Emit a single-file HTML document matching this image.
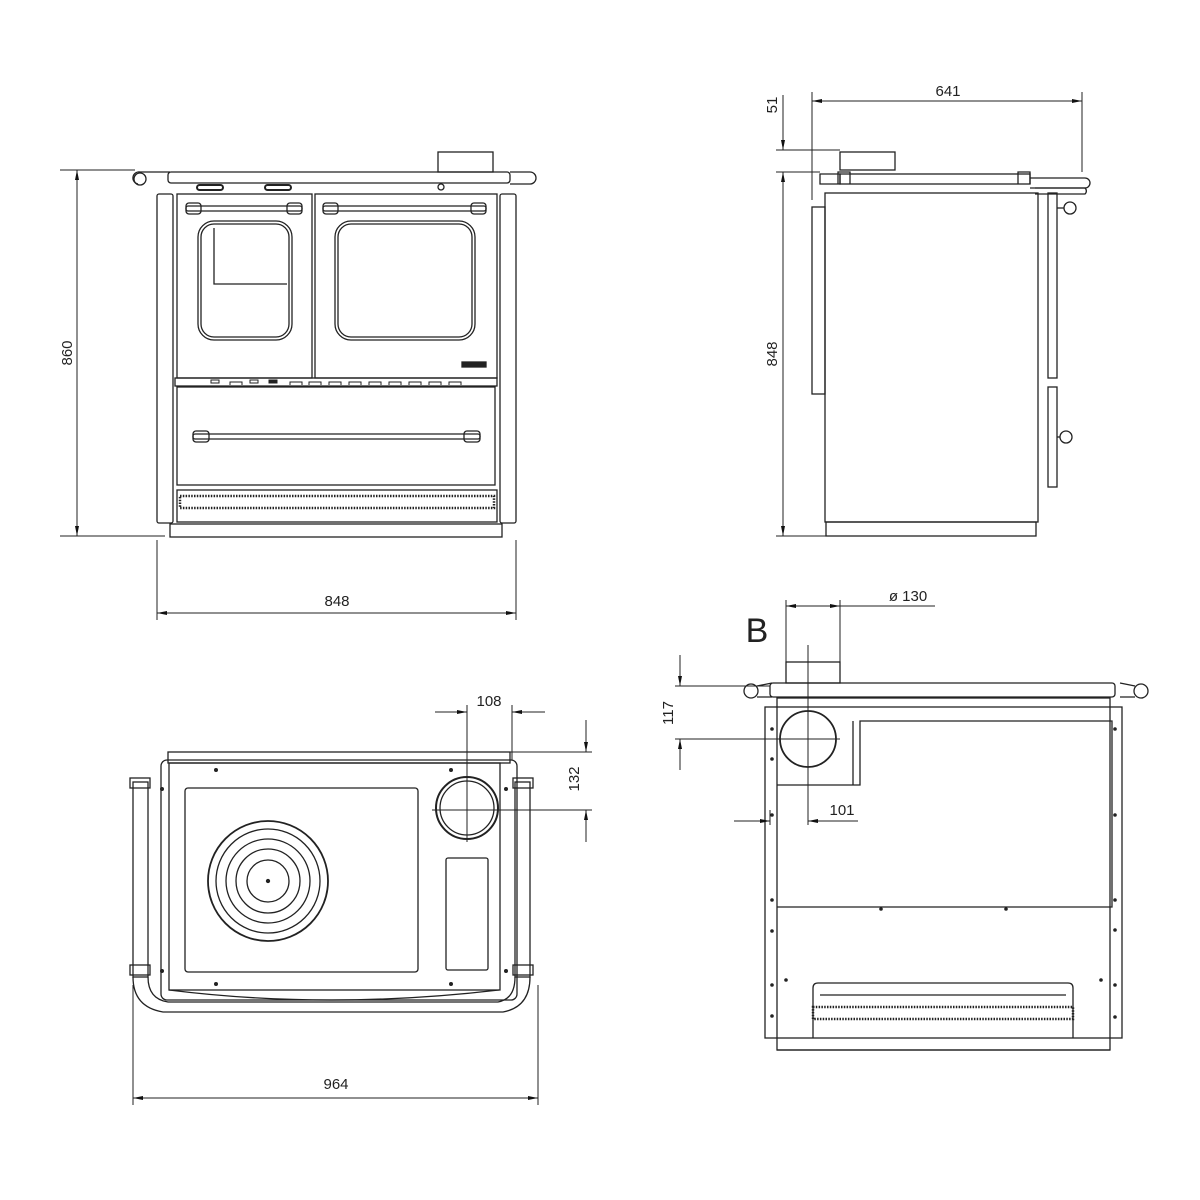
<!DOCTYPE html>
<html><head><meta charset="utf-8"><style>html,body{margin:0;padding:0;background:#fff}svg{display:block}</style></head>
<body>
<svg width="1200" height="1200" viewBox="0 0 1200 1200" xmlns="http://www.w3.org/2000/svg" font-family="Liberation Sans, sans-serif">
<defs>
<marker id="a" viewBox="0 0 10 10" refX="10" refY="5" markerWidth="10" markerHeight="4" orient="auto-start-reverse" preserveAspectRatio="none"><path d="M0,0 L10,5 L0,10 z" fill="#111"/></marker>
</defs>
<g fill="none" stroke="#222" stroke-width="1.3">
<!-- FRONT VIEW -->
<rect x="168" y="172" width="342" height="11" rx="3"/>
<path d="M138,184 a6,6 0 0 1 2,-12 h30"/><circle cx="140" cy="179" r="6"/>
<path d="M510,172 h20 a6,6 0 0 1 0,12 h-20"/>
<rect x="438" y="152" width="55" height="20"/>
<rect x="197" y="185" width="26" height="5" rx="2.5" stroke-width="2"/><rect x="265" y="185" width="26" height="5" rx="2.5" stroke-width="2"/>
<circle cx="441" cy="187" r="3"/>
<rect x="157" y="194" width="16" height="329" rx="2"/>
<rect x="500" y="194" width="16" height="329" rx="2"/>
<rect x="177" y="194" width="135" height="184"/>
<rect x="315" y="194" width="182" height="184"/>
<rect x="198" y="221" width="94" height="119" rx="16"/>
<rect x="201" y="224" width="88" height="113" rx="13"/>
<path d="M214,228 V284 H287"/>
<rect x="335" y="221" width="140" height="119" rx="16"/>
<rect x="338" y="224" width="134" height="113" rx="13"/>
<rect x="186" y="206" width="116" height="5" rx="2"/><rect x="323" y="206" width="163" height="5" rx="2"/>
<rect x="186" y="203" width="15" height="11" rx="3"/><rect x="287" y="203" width="15" height="11" rx="3"/>
<rect x="323" y="203" width="15" height="11" rx="3"/><rect x="471" y="203" width="15" height="11" rx="3"/>
<rect x="462" y="362" width="24" height="5" fill="#222"/>
<rect x="175" y="378" width="322" height="8"/>
<g stroke-width="1"><rect x="211" y="380" width="8" height="3"/><rect x="250" y="380" width="8" height="3"/><rect x="269" y="380" width="8" height="3" fill="#222"/>
<path d="M230,385 v-3 h12 v3 M290,385 v-3 h12 v3 M309,385 v-3 h12 v3 M329,385 v-3 h12 v3 M349,385 v-3 h12 v3 M369,385 v-3 h12 v3 M389,385 v-3 h12 v3 M409,385 v-3 h12 v3 M429,385 v-3 h12 v3 M449,385 v-3 h12 v3"/></g>
<rect x="177" y="387" width="318" height="98"/>
<rect x="193" y="434" width="287" height="5" rx="2"/>
<rect x="193" y="431" width="16" height="11" rx="3"/><rect x="464" y="431" width="16" height="11" rx="3"/>
<rect x="177" y="490" width="320" height="32"/>
<rect x="180" y="496" width="314" height="12" stroke-dasharray="1.5 1.3" stroke-width="2.5"/>
<rect x="170" y="524" width="332" height="13"/>
<!-- front dims -->
<g stroke-width="1">
<line x1="60" y1="170" x2="135" y2="170"/><line x1="60" y1="536" x2="165" y2="536"/>
<line x1="77" y1="170" x2="77" y2="536" marker-start="url(#a)" marker-end="url(#a)"/>
<line x1="157" y1="540" x2="157" y2="620"/><line x1="516" y1="540" x2="516" y2="620"/>
<line x1="157" y1="613" x2="516" y2="613" marker-start="url(#a)" marker-end="url(#a)"/>
</g>

<!-- SIDE VIEW -->
<path d="M820,184 v-10 h20 v10 z"/><rect x="840" y="174" width="190" height="10"/>
<path d="M838,184 v-12 h12 v12 M1018,184 v-12 h12 v12"/>
<rect x="840" y="152" width="55" height="18"/>
<path d="M1030,178 h55 a5,5 0 0 1 0,10 h-55"/>
<path d="M1035,188 h50 a4,4 0 0 1 0,6 h-50"/>
<rect x="825" y="193" width="213" height="329"/>
<rect x="812" y="207" width="13" height="187"/>
<rect x="826" y="522" width="210" height="14"/>
<rect x="1048" y="193" width="9" height="185"/><rect x="1048" y="387" width="9" height="100"/>
<circle cx="1070" cy="208" r="6"/><circle cx="1066" cy="437" r="6"/>
<line x1="1057" y1="208" x2="1064" y2="208"/><line x1="1057" y1="437" x2="1060" y2="437"/>
<g stroke-width="1">
<line x1="812" y1="92" x2="812" y2="200"/><line x1="1082" y1="92" x2="1082" y2="172"/>
<line x1="812" y1="101" x2="1082" y2="101" marker-start="url(#a)" marker-end="url(#a)"/>
<line x1="776" y1="150" x2="840" y2="150"/><line x1="776" y1="172" x2="820" y2="172"/><line x1="776" y1="536" x2="826" y2="536"/>
<line x1="783" y1="95" x2="783" y2="150" marker-end="url(#a)"/>
<line x1="783" y1="172" x2="783" y2="536" marker-start="url(#a)" marker-end="url(#a)"/>
</g>

<!-- TOP VIEW -->
<rect x="168" y="752" width="342" height="11"/>
<rect x="161" y="760" width="356" height="240" rx="6"/>
<rect x="169" y="763" width="331" height="227"/>
<rect x="185" y="788" width="233" height="184" rx="3"/>
<circle cx="268" cy="881" r="60" stroke-width="1.8"/><circle cx="268" cy="881" r="52"/><circle cx="268" cy="881" r="42"/><circle cx="268" cy="881" r="32"/><circle cx="268" cy="881" r="21"/>
<circle cx="268" cy="881" r="1.5" fill="#222"/>
<circle cx="467" cy="808" r="31" stroke-width="2"/><circle cx="467" cy="808" r="27"/>
<rect x="446" y="858" width="42" height="112" rx="2"/>
<rect x="133" y="782" width="15" height="195"/><rect x="515" y="782" width="15" height="195"/>
<path d="M133,977 q0,30 30,35 h340 q27,-5 27,-35"/>
<path d="M148,977 q0,22 20,25 h330 q17,-3 17,-25"/>
<path d="M169,990 q160,20 330,0"/>
<rect x="130" y="778" width="20" height="10"/><rect x="513" y="778" width="20" height="10"/>
<rect x="130" y="965" width="20" height="10"/><rect x="513" y="965" width="20" height="10"/>
<g fill="#222" stroke="none"><circle cx="216" cy="770" r="2"/><circle cx="451" cy="770" r="2"/><circle cx="216" cy="984" r="2"/><circle cx="451" cy="984" r="2"/><circle cx="162" cy="789" r="2"/><circle cx="506" cy="789" r="2"/><circle cx="162" cy="971" r="2"/><circle cx="506" cy="971" r="2"/></g>
<g stroke-width="1">
<line x1="133" y1="985" x2="133" y2="1105"/><line x1="538" y1="985" x2="538" y2="1105"/>
<line x1="133" y1="1098" x2="538" y2="1098" marker-start="url(#a)" marker-end="url(#a)"/>
<line x1="467" y1="705" x2="467" y2="842"/><line x1="512" y1="705" x2="512" y2="760"/>
<line x1="435" y1="712" x2="467" y2="712" marker-end="url(#a)"/><line x1="545" y1="712" x2="512" y2="712" marker-end="url(#a)"/>
<line x1="510" y1="752" x2="592" y2="752"/><line x1="432" y1="810" x2="592" y2="810"/>
<line x1="586" y1="720" x2="586" y2="752" marker-end="url(#a)"/><line x1="586" y1="842" x2="586" y2="810" marker-end="url(#a)"/>
</g>

<!-- REAR VIEW -->
<rect x="770" y="683" width="345" height="14" rx="3"/>
<circle cx="751" cy="691" r="7"/><circle cx="1141" cy="691" r="7"/>
<path d="M757,686 l15,-3 M757,697 l15,0 M1135,686 l-15,-3 M1135,697 l-15,0"/>
<rect x="786" y="662" width="54" height="21"/>
<rect x="765" y="707" width="357" height="331"/>
<rect x="777" y="698" width="333" height="352"/>
<path d="M777,785 H860 V721 H1112 V907 H777"/>
<line x1="853" y1="721" x2="853" y2="785"/>
<circle cx="808" cy="739" r="28" stroke-width="1.8"/>
<path d="M813,1038 V988 q0,-5 5,-5 h250 q5,0 5,5 V1038"/>
<path d="M820,995 h246"/>
<rect x="813" y="1007" width="260" height="12" stroke-dasharray="1.5 1.3" stroke-width="2.5"/>
<line x1="777" y1="1050" x2="1110" y2="1050"/>
<g fill="#222" stroke="none"><circle cx="772" cy="729" r="1.8"/><circle cx="772" cy="759" r="1.8"/><circle cx="772" cy="815" r="1.8"/><circle cx="772" cy="900" r="1.8"/><circle cx="772" cy="931" r="1.8"/><circle cx="772" cy="985" r="1.8"/><circle cx="772" cy="1016" r="1.8"/>
<circle cx="1115" cy="729" r="1.8"/><circle cx="1115" cy="815" r="1.8"/><circle cx="1115" cy="900" r="1.8"/><circle cx="1115" cy="930" r="1.8"/><circle cx="1115" cy="985" r="1.8"/><circle cx="1115" cy="1017" r="1.8"/>
<circle cx="881" cy="909" r="1.8"/><circle cx="1006" cy="909" r="1.8"/><circle cx="786" cy="980" r="1.8"/><circle cx="1101" cy="980" r="1.8"/></g>
<g stroke-width="1">
<line x1="786" y1="600" x2="786" y2="662"/><line x1="840" y1="600" x2="840" y2="662"/>
<line x1="786" y1="606" x2="840" y2="606" marker-start="url(#a)" marker-end="url(#a)"/><line x1="840" y1="606" x2="935" y2="606"/>
<line x1="808" y1="645" x2="808" y2="825"/><line x1="778" y1="739" x2="840" y2="739"/>
<line x1="675" y1="686" x2="770" y2="686"/><line x1="675" y1="739" x2="790" y2="739"/>
<line x1="680" y1="655" x2="680" y2="686" marker-end="url(#a)"/><line x1="680" y1="770" x2="680" y2="739" marker-end="url(#a)"/>
<line x1="734" y1="821" x2="770" y2="821" marker-end="url(#a)"/><line x1="858" y1="821" x2="808" y2="821" marker-end="url(#a)"/>
<line x1="770" y1="810" x2="770" y2="825"/>
</g>
</g>
<g fill="#222" font-size="15">
<text x="337" y="606" text-anchor="middle">848</text>
<text transform="translate(72,353) rotate(-90)" text-anchor="middle">860</text>
<text x="948" y="96" text-anchor="middle">641</text>
<text transform="translate(777,105) rotate(-90)" text-anchor="middle">51</text>
<text transform="translate(777,354) rotate(-90)" text-anchor="middle">848</text>
<text x="336" y="1089" text-anchor="middle">964</text>
<text x="489" y="706" text-anchor="middle">108</text>
<text transform="translate(579,779) rotate(-90)" text-anchor="middle">132</text>
<text x="908" y="601" text-anchor="middle">ø 130</text>
<text transform="translate(673,713) rotate(-90)" text-anchor="middle">117</text>
<text x="842" y="815" text-anchor="middle">101</text>
<text x="757" y="642" text-anchor="middle" font-size="34">B</text>
</g>
</svg>
</body></html>
